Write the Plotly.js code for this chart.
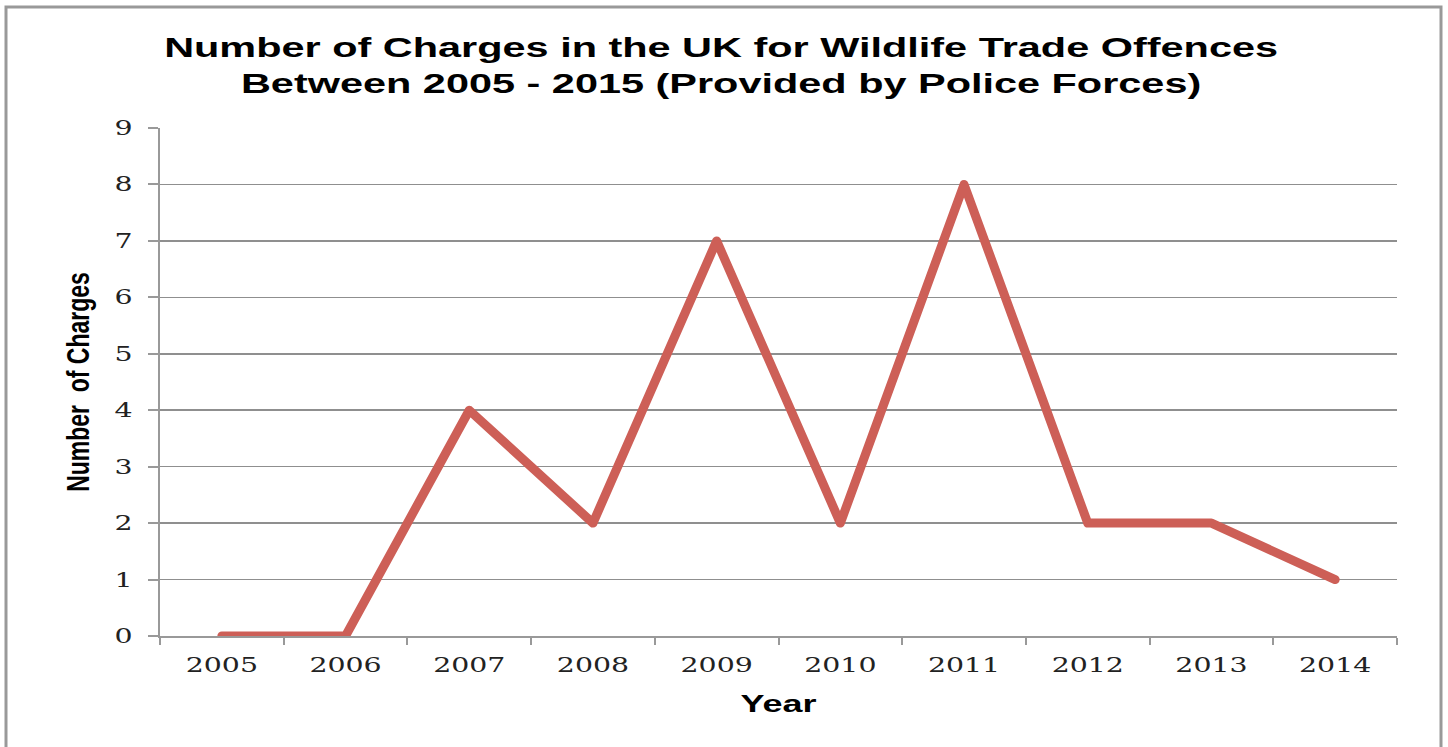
<!DOCTYPE html>
<html>
<head>
<meta charset="utf-8">
<script src="https://cdn.plot.ly/plotly-3.0.1.min.js"></script>
<style>
html,body{margin:0;padding:0;background:#fff;}
#chart{width:1448px;height:747px;}
#chart .scatterlayer path.js-line{stroke-linecap:round;stroke-linejoin:round;}
</style>
</head>
<body>
<div id="chart"></div>
<script>
const years = ['2005','2006','2007','2008','2009','2010','2011','2012','2013','2014'];
const charges = [0, 0, 4, 2, 7, 2, 8, 2, 2, 1];
const yTicks = [0,1,2,3,4,5,6,7,8,9];

const ML = 160, MR = 51, MT = 128, MB = 111, W = 1448, H = 747;
const PW = W - ML - MR, PH = H - MT - MB;
const px = x => (x - ML) / PW;
const py = y => (H - MB - y) / PH;

const trace = {
  x: years, y: charges, type: 'scatter', mode: 'lines',
  line: {color: '#CD5F57', width: 9},
  hoverinfo: 'x+y'
};

const layout = {
  width: W, height: H,
  margin: {l: ML, r: MR, t: MT, b: MB},
  paper_bgcolor: '#fff', plot_bgcolor: '#fff',
  showlegend: false,
  title: {
    text: '<b>Number of Charges in the UK for Wildlife Trade Offences<br>Between 2005 - 2015 (Provided by Police Forces)</b>',
    font: {family: 'Liberation Sans, Arial, sans-serif', size: 28, color: '#000'},
    x: 0.498, xref: 'container', xanchor: 'center', y: 0.924, yanchor: 'top', yref: 'container'
  },
  xaxis: {
    type: 'category',
    tickson: 'boundaries',
    ticks: 'outside', ticklen: 7, tickwidth: 2, tickcolor: '#999',
    ticklabelstandoff: 10,
    showline: true, linecolor: '#999', linewidth: 2,
    showgrid: false, zeroline: false,
    tickfont: {family: 'DejaVu Serif, Liberation Serif, serif', size: 20, color: '#222'},
    title: {text: '<b>Year</b>', font: {family: 'Liberation Sans, Arial, sans-serif', size: 24, color: '#000'}, standoff: 19},
    range: [-0.5, 9.5]
  },
  yaxis: {
    range: [0, 9], tickvals: yTicks, ticktext: yTicks.map(String),
    ticks: 'outside', ticklen: 10, tickwidth: 2, tickcolor: '#999',
    ticklabelstandoff: 14,
    showline: true, linecolor: '#999', linewidth: 2,
    showgrid: true, gridcolor: '#8f8f8f', gridwidth: 1.6,
    zeroline: false,
    tickfont: {family: 'DejaVu Serif, Liberation Serif, serif', size: 20, color: '#222'},
    title: {text: '<b>Number  of Charges</b>', font: {family: 'Liberation Sans, Arial, sans-serif', size: 23, color: '#000'}, standoff: 24}
  },
  shapes: [{
    type: 'rect', xref: 'paper', yref: 'paper',
    x0: px(6), x1: px(1441), y0: py(7), y1: py(760),
    line: {color: '#999', width: 3}, fillcolor: 'rgba(0,0,0,0)', layer: 'below'
  }]
};

// widen text horizontally (the reference is rendered horizontally stretched)
function stretch(el, s) {
  const bb = el.getBBox();
  const cx = bb.x + bb.width / 2, cy = bb.y + bb.height / 2;
  const list = el.transform.baseVal;
  const m = list.numberOfItems ? list.consolidate().matrix : {a:1,b:0,c:0,d:1,e:0,f:0};
  const pxc = m.a * cx + m.c * cy + m.e;
  const pyc = m.b * cx + m.d * cy + m.f;
  const existing = list.numberOfItems ? `matrix(${m.a},${m.b},${m.c},${m.d},${m.e},${m.f})` : '';
  el.setAttribute('transform', `translate(${pxc},${pyc}) scale(${s},1) translate(${-pxc},${-pyc}) ${existing}`);
}

Plotly.newPlot('chart', [trace], layout, {displayModeBar: false, staticPlot: true}).then(gd => {
  gd.querySelectorAll('.gtitle').forEach(t => stretch(t, 1.48));
  gd.querySelectorAll('.xtick text, .ytick text').forEach(t => stretch(t, 1.42));
  gd.querySelectorAll('.g-xtitle text').forEach(t => stretch(t, 1.5));
  gd.querySelectorAll('.g-ytitle text').forEach(t => stretch(t, 1.4));
});
</script>
</body>
</html>
